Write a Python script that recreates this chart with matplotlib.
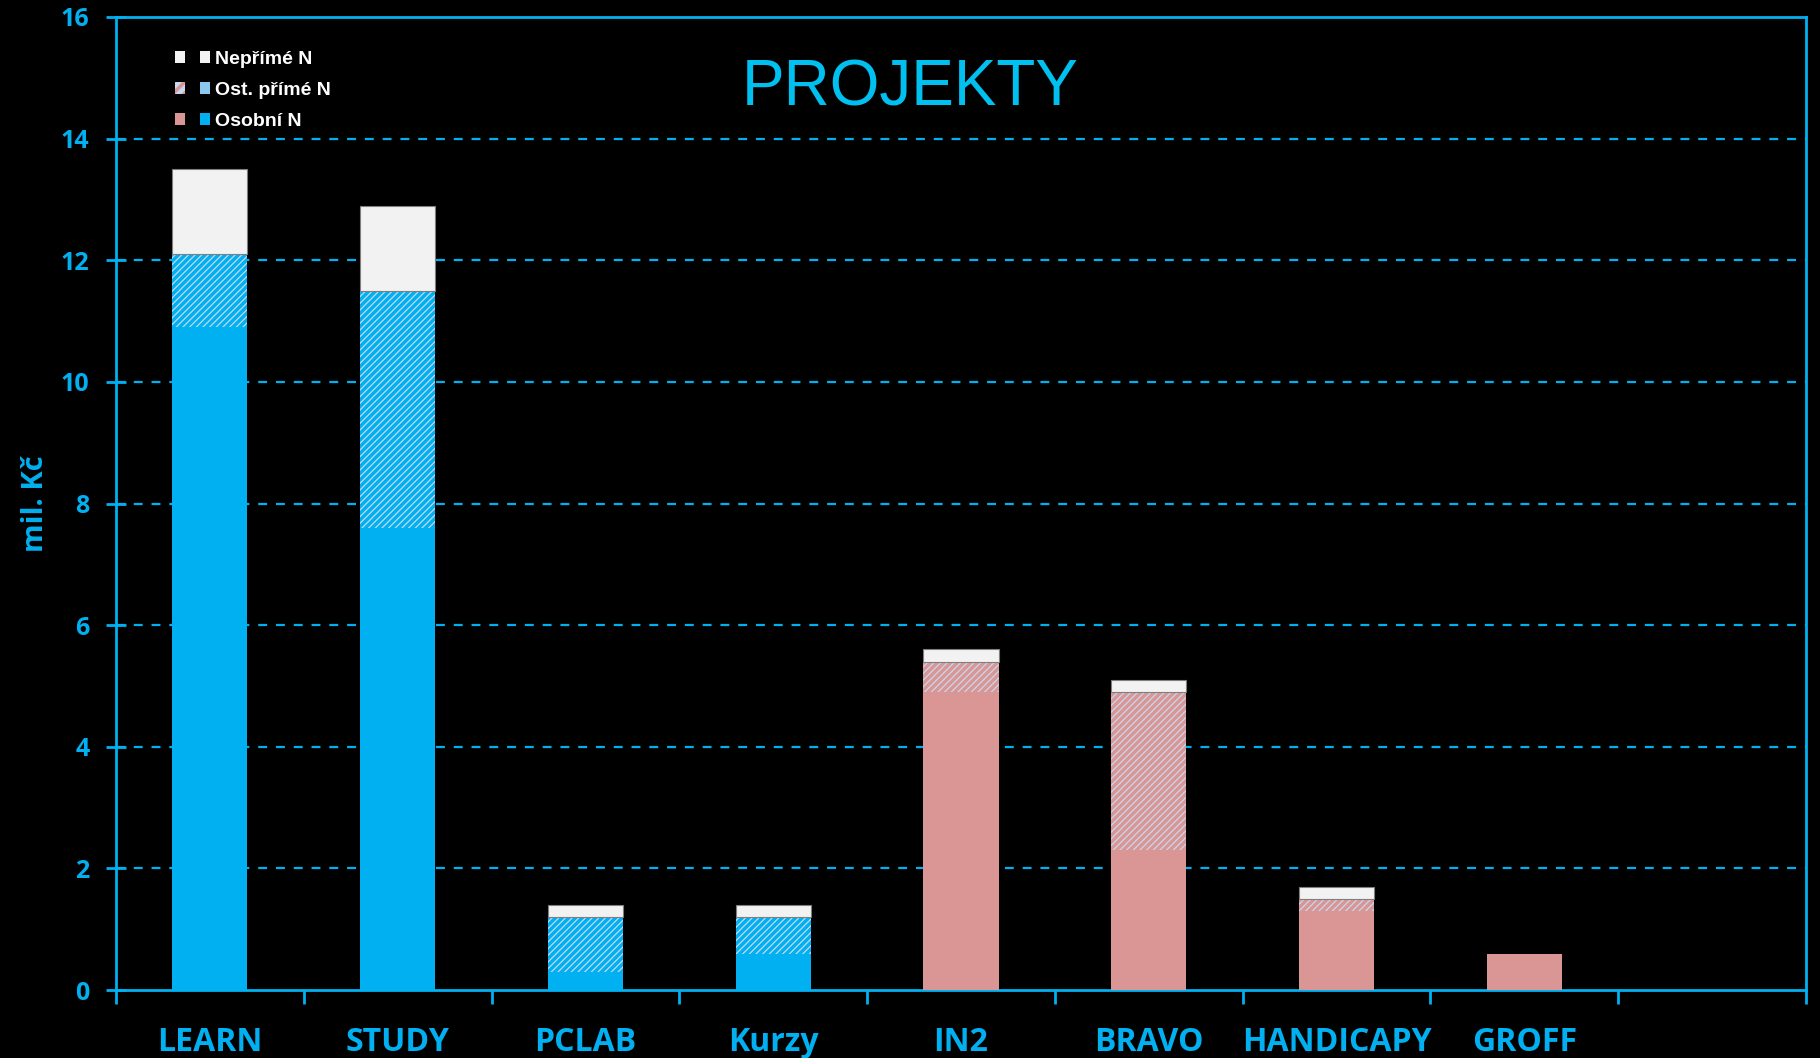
import numpy as np
import matplotlib
matplotlib.use("Agg")
import matplotlib.pyplot as plt
from matplotlib.patches import Patch
from matplotlib.legend_handler import HandlerTuple

# data (mil. Kč)
projekty = ['LEARN', 'STUDY', 'PCLAB', 'Kurzy', 'IN2', 'BRAVO', 'HANDICAPY', 'GROFF']
osobni = [10.9, 7.6, 0.3, 0.6, 4.9, 2.3, 1.3, 0.6]
ost_prime = [1.2, 3.9, 0.9, 0.6, 0.5, 2.6, 0.2, 0.0]
neprime = [1.4, 1.4, 0.2, 0.2, 0.2, 0.2, 0.2, 0.0]
skupina = ['a', 'a', 'a', 'a', 'b', 'b', 'b', 'b']   # a = modre, b = ruzove

modra = '#00B0F0'
ruzova = '#D99694'
svetla = '#C6D9F1'
bila = '#F2F2F2'
txt = '#00B0F0'

plt.rcParams['hatch.linewidth'] = 2.5

fig = plt.figure(figsize=(18.2, 10.58), dpi=100, facecolor='black')
ax = fig.add_axes([116/1820, 1 - 990/1058, 1690/1820, 973/1058])
ax.set_facecolor('black')

x = np.arange(len(projekty))
w = 0.4
for i in range(len(projekty)):
    barva = modra if skupina[i] == 'a' else ruzova
    ax.bar(x[i], osobni[i], w, color=barva, linewidth=0, zorder=3)
    if ost_prime[i] > 0:
        ax.bar(x[i], ost_prime[i], w, bottom=osobni[i], facecolor=svetla,
               edgecolor=barva, hatch='/////', linewidth=0, zorder=3)
    if neprime[i] > 0:
        ax.bar(x[i], neprime[i], w, bottom=osobni[i] + ost_prime[i],
               color=bila, edgecolor='#7f7f7f', linewidth=0.8, zorder=3)

ax.set_xlim(-0.5, 8.5)
ax.set_ylim(0, 16)
ax.set_yticks(np.arange(0, 17, 2))
for y in range(2, 16, 2):
    ax.axhline(y, color=modra, lw=1.6, ls=(0, (4, 4)), zorder=1)

for s in ax.spines.values():
    s.set_color(modra)
    s.set_linewidth(2)

ax.set_xticks(np.arange(-0.5, 9, 1))
ax.set_xticklabels([])
ax.set_xticks(x, minor=True)
ax.set_xticklabels(projekty, minor=True, fontsize=23, fontweight='bold',
                   color=txt, family='Open Sans')
ax.tick_params(axis='x', which='major', direction='out', length=10, width=2, color=modra)
ax.tick_params(axis='x', which='minor', length=0, pad=26)
ax.tick_params(axis='y', direction='inout', length=14, width=2, color=modra,
               labelsize=18, labelcolor=txt, pad=12)
for t in ax.get_yticklabels():
    t.set_fontweight('bold')
    t.set_family('Open Sans')

ax.set_ylabel('mil. Kč', fontsize=21, fontweight='bold', color=txt,
              family='Open Sans', labelpad=8)

ax.text(0.47, 0.927, 'PROJEKTY', transform=ax.transAxes, fontsize=46,
        color='#00C0F0', ha='center', va='center', family='Liberation Sans')

handles = [
    (Patch(facecolor=bila), Patch(facecolor=bila)),
    (Patch(facecolor=svetla, edgecolor=ruzova, hatch='///', linewidth=0), Patch(facecolor='#8DC8EE')),
    (Patch(facecolor=ruzova), Patch(facecolor=modra)),
]
labels = ['Nepřímé N', 'Ost. přímé N', 'Osobní N']
leg = ax.legend(handles, labels, handler_map={tuple: HandlerTuple(ndivide=None, pad=0.75)},
                loc='upper left', bbox_to_anchor=(0.0245, 0.983), frameon=False,
                handlelength=1.8, handleheight=0.55, handletextpad=0.25,
                labelspacing=0.72, prop={'family': 'Liberation Sans', 'weight': 'bold', 'size': 14})
for t in leg.get_texts():
    t.set_color('white')

fig.savefig('out.png', dpi=100, facecolor='black')
